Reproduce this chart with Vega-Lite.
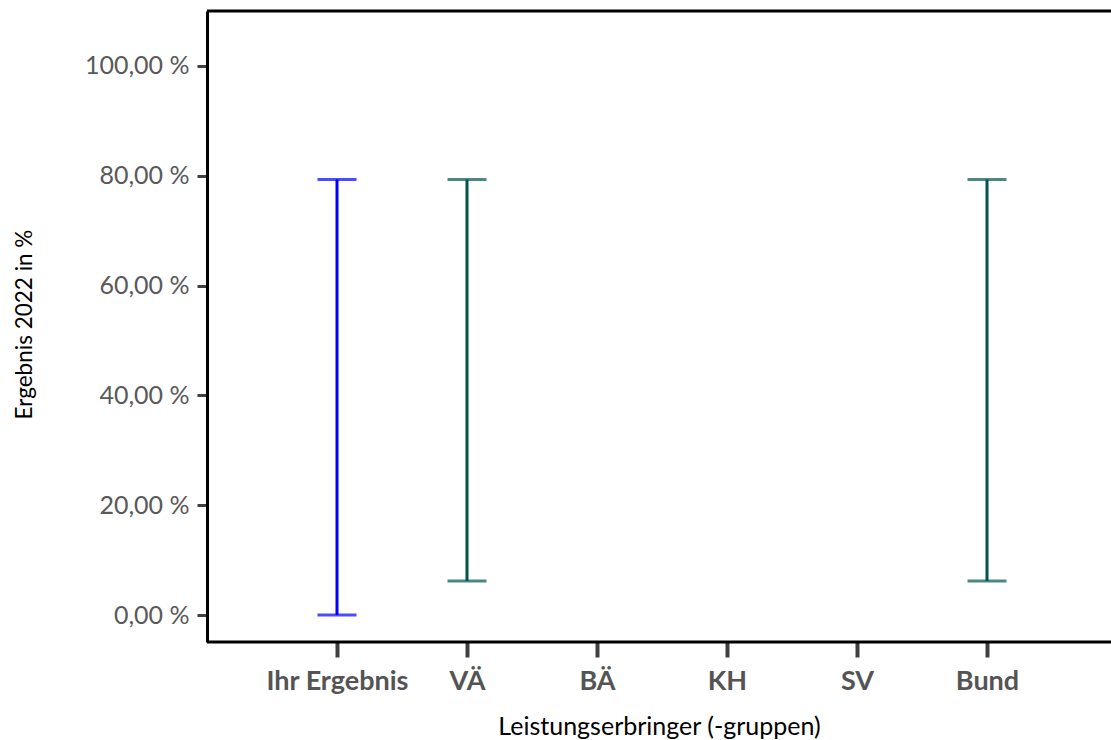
{
  "$schema": "https://vega.github.io/schema/vega-lite/v6.json",
  "width": 904,
  "height": 631,
  "autosize": {"type": "none"},
  "padding": {"left": 207, "top": 11, "right": 0, "bottom": 98},
  "background": "white",
  "view": {"stroke": null},
  "config": {
    "font": "Lato",
    "axis": {"grid": false}
  },
  "data": {
    "values": [
      {"gruppe": "Ihr Ergebnis", "art": "eigen", "unten": 0.0, "oben": 79.3},
      {"gruppe": "VÄ", "art": "vergleich", "unten": 6.2, "oben": 79.3},
      {"gruppe": "Bund", "art": "vergleich", "unten": 6.2, "oben": 79.3}
    ]
  },
  "layer": [
    {
      "encoding": {
        "x": {
          "field": "gruppe",
          "type": "nominal",
          "sort": null,
          "scale": {
            "type": "point",
            "domain": ["Ihr Ergebnis", "VÄ", "BÄ", "KH", "SV", "Bund"],
            "range": [130, 780],
            "padding": 0
          },
          "axis": {
            "title": "Leistungserbringer (-gruppen)",
            "titleFont": "Lato",
            "titleFontSize": 25,
            "titleFontWeight": "normal",
            "titleColor": "#000000",
            "titleBaseline": "alphabetic",
            "titleY": 92,
            "titleX": 452,
            "labelAngle": 0,
            "labelFont": "Lato",
            "labelFontSize": 27,
            "labelFontWeight": "bold",
            "labelColor": "#545454",
            "labelBaseline": "alphabetic",
            "labelPadding": 32,
            "tickSize": 15,
            "tickWidth": 4,
            "tickColor": "#404040",
            "domain": false
          }
        },
        "color": {
          "field": "art",
          "type": "nominal",
          "scale": {"domain": ["eigen", "vergleich"], "range": ["#0000FF", "#00554F"]},
          "legend": null
        }
      },
      "layer": [
        {
          "mark": {"type": "rule", "strokeWidth": 3},
          "encoding": {
            "y": {
              "field": "unten",
              "type": "quantitative",
              "scale": {"domain": [-4.9, 110], "nice": false, "zero": false},
              "axis": {
                "title": "Ergebnis 2022 in %",
                "titleFont": "Lato",
                "titleFontSize": 22.5,
                "titleFontWeight": "normal",
                "titleColor": "#000000",
                "titleAngle": -90,
                "titleBaseline": "middle",
                "titleX": -183,
                "titleY": 313,
                "values": [0, 20, 40, 60, 80, 100],
                "labelExpr": "replace(format(datum.value, '.2f'), '.', ',') + ' %'",
                "labelFont": "Lato",
                "labelFontSize": 25,
                "labelColor": "#595959",
                "labelPadding": 8,
                "tickSize": 10,
                "tickWidth": 3,
                "tickColor": "#404040",
                "domainColor": "#000000",
                "domainWidth": 3
              }
            },
            "y2": {"field": "oben"}
          }
        },
        {
          "mark": {"type": "tick", "size": 39, "thickness": 3},
          "encoding": {"y": {"field": "unten", "type": "quantitative"}}
        },
        {
          "mark": {"type": "tick", "size": 39, "thickness": 3},
          "encoding": {"y": {"field": "oben", "type": "quantitative"}}
        }
      ]
    },
    {
      "data": {"values": [{"rahmen": "oben", "wert": 110}, {"rahmen": "unten", "wert": -4.9}]},
      "mark": {"type": "rule", "strokeWidth": 3, "color": "#000000"},
      "encoding": {"y": {"field": "wert", "type": "quantitative"}}
    }
  ]
}
